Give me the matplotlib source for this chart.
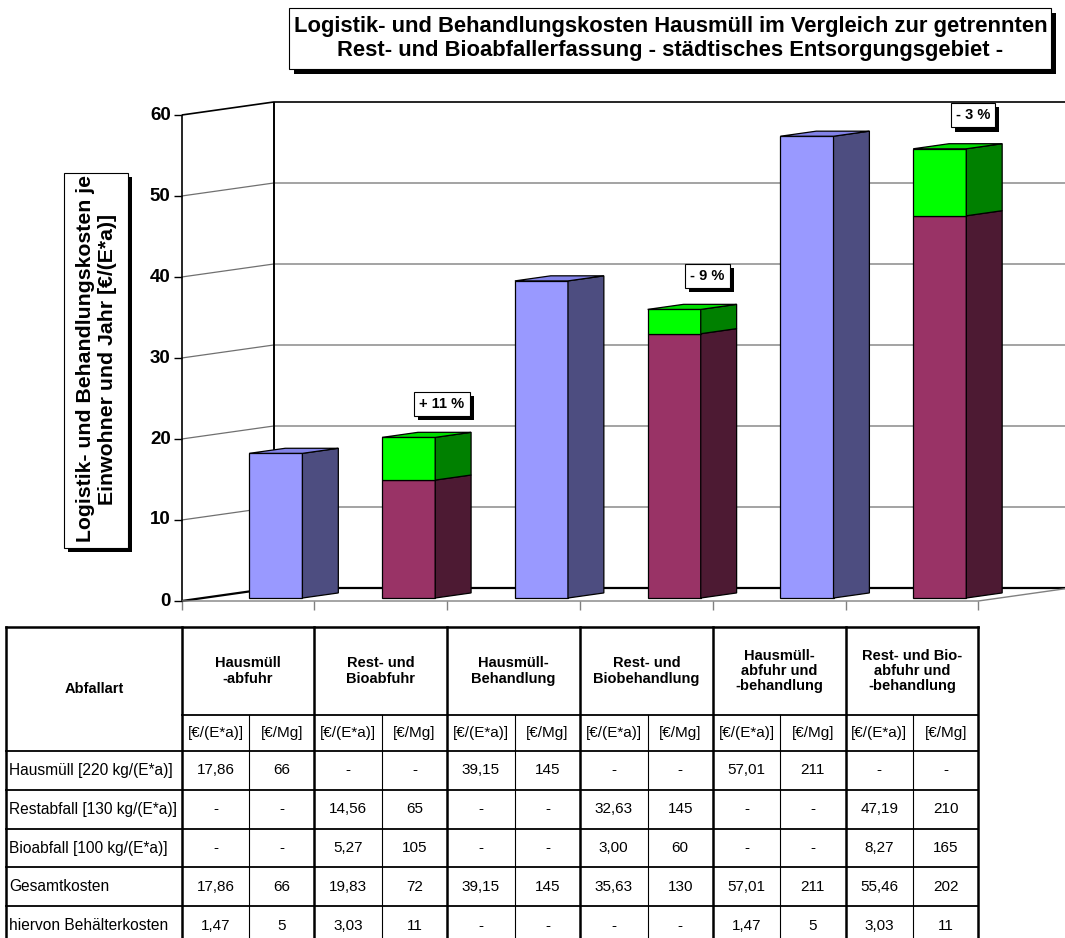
import matplotlib
matplotlib.use("Agg")
import matplotlib.pyplot as plt
from matplotlib.patches import Polygon, Rectangle
import matplotlib.patheffects as pe

plt.rcParams['font.family'] = ['Liberation Sans', 'DejaVu Sans']

# categories (two table header lines per group)
categories = ["Hausmüll\n-abfuhr", "Rest- und\nBioabfuhr", "Hausmüll-\nBehandlung",
              "Rest- und\nBiobehandlung", "Hausmüll-\nabfuhr und\n-behandlung",
              "Rest- und Bio-\nabfuhr und\n-behandlung"]
units = ["[€/(E*a)]", "[€/Mg]"]
row_labels = ["Hausmüll [220 kg/(E*a)]", "Restabfall [130 kg/(E*a)]",
              "Bioabfall [100 kg/(E*a)]", "Gesamtkosten", "hiervon Behälterkosten"]

# costs per inhabitant and year [€/(E*a)], None = no value
hausmuell = [17.86, None, 39.15, None, 57.01, None]
restabfall = [None, 14.56, None, 32.63, None, 47.19]
bioabfall = [None, 5.27, None, 3.00, None, 8.27]
gesamt = [17.86, 19.83, 39.15, 35.63, 57.01, 55.46]
behaelter = [1.47, 3.03, None, None, 1.47, 3.03]

# specific costs [€/Mg]
hausmuell_mg = [66, None, 145, None, 211, None]
restabfall_mg = [None, 65, None, 145, None, 210]
bioabfall_mg = [None, 105, None, 60, None, 165]
gesamt_mg = [66, 72, 145, 130, 211, 202]
behaelter_mg = [5, 11, None, None, 5, 11]

yticks = [0, 10, 20, 30, 40, 50, 60]

W, H = 1065, 938
fig = plt.figure(figsize=(W / 100, H / 100), dpi=100)

# overlay in pixel units for title, axis caption and table
ax0 = fig.add_axes([0, 0, 1, 1])
ax0.set_xlim(0, W)
ax0.set_ylim(H, 0)
ax0.axis('off')

# chart axes: x in categories, y in €/(E*a)
X0, CAT = 181.7, 132.77
Y0, UNIT = 601.0, 8.1
ax = fig.add_axes([0, 0, 1, 1])
ax.set_xlim(-X0 / CAT, (W - X0) / CAT)
ax.set_ylim((Y0 - H) / UNIT, Y0 / UNIT)
ax.patch.set_alpha(0)
ax.axis('off')

DX, DY = 92 / CAT, 13 / UNIT   # depth of the floor
D1, D2 = 0.23, 0.62            # depth of the bars
XR = (W - X0) / CAT + 0.1
n = len(categories)


def proj(x, v, d):
    return (x + d * DX, v + d * DY)


def line(pts, color='black', lw=1.0, z=1):
    xs, ys = zip(*pts)
    ax.plot(xs, ys, color=color, lw=lw, zorder=z, solid_capstyle='butt')


# walls and gridlines
for v in yticks[1:-1]:
    line([proj(0, v, 0), proj(0, v, 1), (XR, v + DY)], color='#707070', lw=0.9)
line([proj(0, 60, 0), proj(0, 60, 1), (XR, 60 + DY)], lw=1.2)
line([proj(0, 0, 0), proj(0, 0, 1), (XR, DY)], lw=1.6)
line([proj(0, 0, 1), proj(0, 60, 1)], lw=1.4)
line([(0, 0), (0, 60)], lw=1.2)
line([(0, 0), (n, 0), proj(n, 0, 1)], color='#808080', lw=1.0)
for i in range(n + 1):
    line([(i, 0), (i, -9 / UNIT)], color='#808080', lw=1.0)
for v in yticks:
    line([(-8 / CAT, v), (0, v)], lw=1.0)
    ax.text(-11 / CAT, v, str(v), ha='right', va='center', fontsize=13.5, fontweight='bold')

colors = {
    'blue': ('#9999FF', '#4D4D80', '#8383E8'),
    'purple': ('#993366', '#4D1A33', '#7A2952'),
    'green': ('#00FF00', '#008000', '#00DD00'),
}


def box(x0, w, b, t, col, top=True):
    front, side, topc = colors[col]
    kw = dict(edgecolor='black', lw=0.9, joinstyle='miter', zorder=3)
    ax.add_patch(Polygon([proj(x0, b, D1), proj(x0 + w, b, D1), proj(x0 + w, t, D1),
                          proj(x0, t, D1)], facecolor=front, **kw))
    ax.add_patch(Polygon([proj(x0 + w, b, D1), proj(x0 + w, b, D2), proj(x0 + w, t, D2),
                          proj(x0 + w, t, D1)], facecolor=side, **kw))
    if top:
        ax.add_patch(Polygon([proj(x0, t, D1), proj(x0 + w, t, D1), proj(x0 + w, t, D2),
                              proj(x0, t, D2)], facecolor=topc, **kw))


shadow = [pe.withSimplePatchShadow(offset=(3, -3), shadow_rgbFace='black', alpha=1.0)]
for i in range(n):
    x0 = i + 0.35
    if hausmuell[i] is not None:
        box(x0, 0.40, 0, hausmuell[i], 'blue')
    else:
        box(x0, 0.40, 0, restabfall[i], 'purple', top=False)
        box(x0, 0.40, restabfall[i], restabfall[i] + bioabfall[i], 'green')
        change = round((gesamt[i] / gesamt[i - 1] - 1) * 100)
        label = ("+ " if change > 0 else "- ") + f"{abs(change)} %"
        t = ax.text(i + 0.96, gesamt[i] + 4.5, label, ha='center', va='center',
                    fontsize=10.5, fontweight='bold', zorder=5,
                    bbox=dict(boxstyle='square,pad=0.35', facecolor='white',
                              edgecolor='black', lw=0.8))
        t.get_bbox_patch().set_path_effects(shadow)


def shadow_box(x, y, w, h, off):
    ax0.add_patch(Rectangle((x + off, y + off), w, h, facecolor='black', lw=0))
    ax0.add_patch(Rectangle((x, y), w, h, facecolor='white', edgecolor='black', lw=0.8))


# title
shadow_box(289, 8, 762, 61, 5)
ax0.text(670.5, 38.5, "Logistik- und Behandlungskosten Hausmüll im Vergleich zur getrennten\n"
         "Rest- und Bioabfallerfassung - städtisches Entsorgungsgebiet -",
         ha='center', va='center', fontsize=15.8, fontweight='bold', linespacing=1.2)

# y axis caption
shadow_box(64, 173, 64, 375, 4)
ax0.text(96.5, 359, "Logistik- und Behandlungskosten je\nEinwohner und Jahr [€/(E*a)]",
         ha='center', va='center', rotation=90, fontsize=15.3, fontweight='bold',
         linespacing=1.2)

# table
TL, TT = 6, 627
HEAD1, HEAD2, ROW = 715, 751, 38.8
sub = [0, 67.5, CAT]
rows = [(hausmuell, hausmuell_mg), (restabfall, restabfall_mg), (bioabfall, bioabfall_mg),
        (gesamt, gesamt_mg), (behaelter, behaelter_mg)]
TB = HEAD2 + ROW * len(rows)
TR = X0 + n * CAT

thick, mid, thin = 1.8, 1.3, 0.8
ax0.plot([TL, TR], [TT, TT], color='black', lw=thick)
ax0.plot([X0, TR], [HEAD1, HEAD1], color='black', lw=mid)
for k in range(len(rows) + 1):
    yy = HEAD2 + k * ROW
    ax0.plot([TL, TR], [yy, yy], color='black', lw=mid)
ax0.plot([TL, TL], [TT, TB], color='black', lw=thick)
for i in range(n + 1):
    xx = X0 + i * CAT
    ax0.plot([xx, xx], [TT, TB], color='black', lw=thick)
    if i < n:
        ax0.plot([xx + sub[1], xx + sub[1]], [HEAD1, TB], color='black', lw=thin)

ax0.text((TL + X0) / 2, (TT + HEAD2) / 2, "Abfallart", ha='center', va='center',
         fontsize=10.5, fontweight='bold')


def fmt(val, dec):
    if val is None:
        return "-"
    return f"{val:.2f}".replace('.', ',') if dec else str(val)


for i in range(n):
    gx = X0 + i * CAT
    ax0.text(gx + CAT / 2, (TT + HEAD1) / 2, categories[i], ha='center', va='center',
             fontsize=10.5, fontweight='bold', linespacing=1.1)
    for j in range(2):
        cx = gx + (sub[j] + sub[j + 1]) / 2
        ax0.text(cx, (HEAD1 + HEAD2) / 2, units[j], ha='center', va='center', fontsize=11)
        for k, (vals_e, vals_mg) in enumerate(rows):
            cy = HEAD2 + (k + 0.5) * ROW
            val = vals_e[i] if j == 0 else vals_mg[i]
            ax0.text(cx, cy, fmt(val, j == 0), ha='center', va='center', fontsize=11)

for k, lab in enumerate(row_labels):
    ax0.text(TL + 3, HEAD2 + (k + 0.5) * ROW, lab, ha='left', va='center', fontsize=11.2)

fig.savefig("out.png", dpi=100)
